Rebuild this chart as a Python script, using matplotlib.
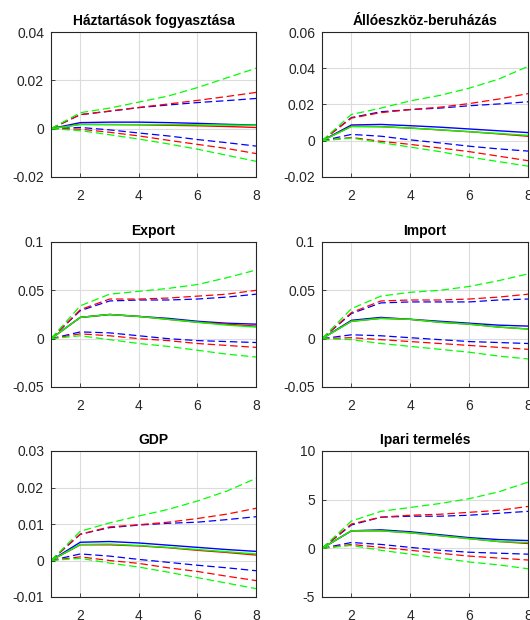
import numpy as np
import matplotlib
matplotlib.use('Agg')
import matplotlib.pyplot as plt

plt.rcParams['font.family'] = ['Liberation Sans', 'DejaVu Sans']
plt.rcParams['font.size'] = 10

periods = [1, 2, 3, 4, 5, 6, 7, 8]

titles = ['Háztartások fogyasztása', 'Állóeszköz-beruházás', 'Export',
          'Import', 'GDP', 'Ipari termelés']
ylims = [(-0.02, 0.04), (-0.02, 0.06), (-0.05, 0.1), (-0.05, 0.1), (-0.01, 0.03), (-5, 10)]
yticks = [[-0.02, 0, 0.02, 0.04],
          [-0.02, 0, 0.02, 0.04, 0.06],
          [-0.05, 0, 0.05, 0.1],
          [-0.05, 0, 0.05, 0.1],
          [-0.01, 0, 0.01, 0.02, 0.03],
          [-5, 0, 5, 10]]
yticklabels = [['-0.02', '0', '0.02', '0.04'],
               ['-0.02', '0', '0.02', '0.04', '0.06'],
               ['-0.05', '0', '0.05', '0.1'],
               ['-0.05', '0', '0.05', '0.1'],
               ['-0.01', '0', '0.01', '0.02', '0.03'],
               ['-5', '0', '5', '10']]

# median responses (solid) per model: blue, red, green
med_blue = [
    [0, 0.0025, 0.0027, 0.0027, 0.0025, 0.0022, 0.0018, 0.0015],
    [0, 0.0087, 0.0090, 0.0083, 0.0075, 0.0065, 0.0055, 0.0045],
    [0, 0.022, 0.025, 0.023, 0.021, 0.018, 0.016, 0.015],
    [0, 0.019, 0.022, 0.020, 0.018, 0.016, 0.014, 0.013],
    [0, 0.0050, 0.0052, 0.0048, 0.0042, 0.0036, 0.0030, 0.0025],
    [0, 1.8, 1.9, 1.7, 1.4, 1.1, 0.9, 0.8],
]
med_red = [
    [0, 0.0018, 0.0017, 0.0016, 0.0014, 0.0012, 0.0009, 0.0005],
    [0, 0.0080, 0.0078, 0.0070, 0.0060, 0.0050, 0.0038, 0.0025],
    [0, 0.022, 0.025, 0.023, 0.020, 0.017, 0.015, 0.013],
    [0, 0.018, 0.021, 0.020, 0.017, 0.015, 0.012, 0.010],
    [0, 0.0043, 0.0043, 0.0040, 0.0035, 0.0028, 0.0022, 0.0015],
    [0, 1.8, 1.8, 1.6, 1.3, 1.0, 0.7, 0.5],
]
med_green = [
    [0, 0.0017, 0.0017, 0.0017, 0.0017, 0.0016, 0.0015, 0.0014],
    [0, 0.0078, 0.0077, 0.0070, 0.0060, 0.0050, 0.0040, 0.0030],
    [0, 0.022, 0.025, 0.023, 0.020, 0.017, 0.014, 0.012],
    [0, 0.018, 0.021, 0.020, 0.017, 0.015, 0.012, 0.010],
    [0, 0.0044, 0.0045, 0.0041, 0.0036, 0.0030, 0.0024, 0.0018],
    [0, 1.8, 1.8, 1.6, 1.3, 1.0, 0.7, 0.6],
]

# upper bands (dashed)
up_blue = [
    [0, 0.0058, 0.0072, 0.0087, 0.0098, 0.0108, 0.0116, 0.0125],
    [0, 0.0128, 0.0160, 0.0172, 0.0180, 0.0193, 0.0203, 0.0215],
    [0, 0.029, 0.039, 0.040, 0.040, 0.041, 0.043, 0.046],
    [0, 0.026, 0.037, 0.038, 0.038, 0.038, 0.040, 0.041],
    [0, 0.0072, 0.0090, 0.0097, 0.0102, 0.0105, 0.0112, 0.0120],
    [0, 2.4, 3.2, 3.3, 3.3, 3.4, 3.6, 3.8],
]
up_red = [
    [0, 0.0058, 0.0073, 0.0088, 0.0102, 0.0117, 0.0133, 0.0150],
    [0, 0.0125, 0.0155, 0.0172, 0.0185, 0.0205, 0.0230, 0.0260],
    [0, 0.030, 0.041, 0.041, 0.042, 0.044, 0.046, 0.050],
    [0, 0.027, 0.039, 0.040, 0.040, 0.041, 0.043, 0.046],
    [0, 0.0072, 0.0092, 0.0098, 0.0105, 0.0115, 0.0127, 0.0143],
    [0, 2.5, 3.2, 3.4, 3.5, 3.7, 3.9, 4.3],
]
up_green = [
    [0, 0.0066, 0.0085, 0.0110, 0.0135, 0.0170, 0.0210, 0.0250],
    [0, 0.0145, 0.0180, 0.0220, 0.0250, 0.0290, 0.0340, 0.0410],
    [0, 0.034, 0.046, 0.049, 0.052, 0.056, 0.063, 0.071],
    [0, 0.031, 0.044, 0.048, 0.050, 0.054, 0.060, 0.067],
    [0, 0.0080, 0.0103, 0.0122, 0.0140, 0.0163, 0.0190, 0.0225],
    [0, 2.8, 3.8, 4.2, 4.6, 5.1, 5.8, 6.8],
]

# lower bands (dashed)
lo_blue = [
    [0, 0.0005, -0.0005, -0.0018, -0.0030, -0.0045, -0.0058, -0.0072],
    [0, 0.0035, 0.0025, 0.0005, -0.0012, -0.0030, -0.0045, -0.0057],
    [0, 0.007, 0.006, 0.003, 0.000, -0.002, -0.003, -0.004],
    [0, 0.004, 0.003, 0.001, -0.001, -0.003, -0.004, -0.005],
    [0, 0.0018, 0.0012, 0.0003, -0.0005, -0.0013, -0.0020, -0.0028],
    [0, 0.6, 0.4, 0.1, -0.2, -0.4, -0.5, -0.6],
]
lo_red = [
    [0, -0.0002, -0.0015, -0.0030, -0.0048, -0.0065, -0.0082, -0.0103],
    [0, 0.0018, -0.0003, -0.0020, -0.0040, -0.0060, -0.0085, -0.0110],
    [0, 0.005, 0.003, 0.000, -0.002, -0.005, -0.007, -0.009],
    [0, 0.001, -0.001, -0.003, -0.005, -0.007, -0.009, -0.011],
    [0, 0.0010, 0.0000, -0.0008, -0.0020, -0.0030, -0.0043, -0.0055],
    [0, 0.4, 0.1, -0.2, -0.5, -0.8, -1.0, -1.2],
]
lo_green = [
    [0, -0.0008, -0.0025, -0.0043, -0.0063, -0.0085, -0.0110, -0.0135],
    [0, 0.0015, -0.0010, -0.0035, -0.0060, -0.0090, -0.0115, -0.0140],
    [0, 0.003, -0.001, -0.005, -0.008, -0.012, -0.016, -0.019],
    [0, -0.001, -0.005, -0.008, -0.011, -0.014, -0.018, -0.021],
    [0, 0.0006, -0.0007, -0.0018, -0.0032, -0.0047, -0.0062, -0.0077],
    [0, 0.3, -0.2, -0.6, -1.0, -1.4, -1.7, -2.1],
]

models = [('b', med_blue, up_blue, lo_blue),
          ('r', med_red, up_red, lo_red),
          ('#00ff00', med_green, up_green, lo_green)]

W, H = 530.0, 620.0
# axes boxes in pixels: left, top, right, bottom
boxes = [(51, 32, 256, 177), (322, 32, 528, 177),
         (51, 242, 256, 387), (322, 242, 528, 387),
         (51, 451, 256, 597), (322, 451, 528, 597)]

fig = plt.figure(figsize=(W / 100, H / 100), dpi=100)
for i in range(6):
    l, t, r, b = boxes[i]
    ax = fig.add_axes([l / W, 1 - b / H, (r - l) / W, (b - t) / H])
    for c, med, up, lo in models:
        ax.plot(periods, up[i], color=c, lw=0.9, linestyle=(0, (6, 3)))
        ax.plot(periods, lo[i], color=c, lw=0.9, linestyle=(0, (6, 3)))
        ax.plot(periods, med[i], color=c, lw=1.0)
    ax.set_xlim(1, 8)
    ax.set_ylim(ylims[i])
    ax.set_xticks([2, 4, 6, 8])
    ax.set_yticks(yticks[i])
    ax.set_yticklabels(yticklabels[i])
    ax.grid(True, color='#dcdcdc', lw=0.8)
    ax.set_axisbelow(True)
    ax.tick_params(direction='in', length=3, width=0.6, colors='#262626', labelsize=10)
    ax.tick_params(axis='x', pad=9)
    ax.tick_params(axis='y', pad=5)
    for s in ax.spines.values():
        s.set_color('#262626')
        s.set_linewidth(0.8)
    ax.set_title(titles[i], fontsize=10, fontweight='bold', pad=5)

fig.savefig('out.png', dpi=100)
